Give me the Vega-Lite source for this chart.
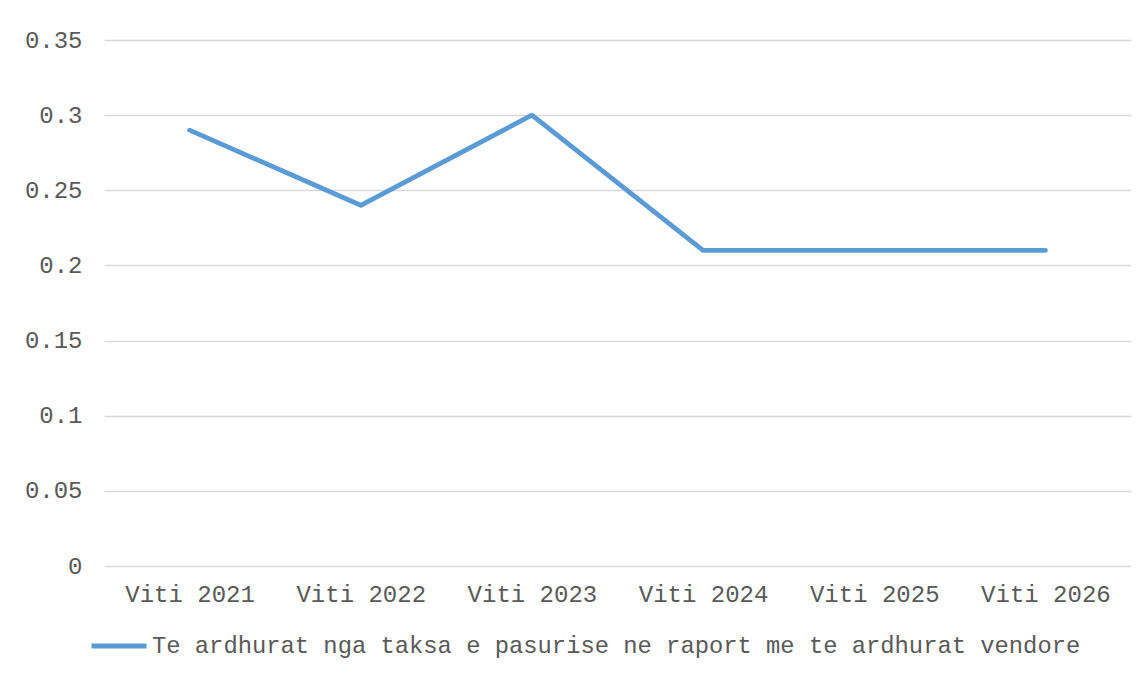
{
  "$schema": "https://vega.github.io/schema/vega-lite/v6.json",
  "autosize": {"type": "none"},
  "padding": {"left": 104, "top": 40, "right": 14, "bottom": 111},
  "width": 1027,
  "height": 526,
  "background": "#ffffff",
  "config": {
    "view": {"stroke": null},
    "font": "Liberation Mono"
  },
  "data": {
    "values": [
      {"year": "Viti 2021", "value": 0.29, "series": "Te ardhurat nga taksa e pasurise ne raport me te ardhurat vendore"},
      {"year": "Viti 2022", "value": 0.24, "series": "Te ardhurat nga taksa e pasurise ne raport me te ardhurat vendore"},
      {"year": "Viti 2023", "value": 0.30, "series": "Te ardhurat nga taksa e pasurise ne raport me te ardhurat vendore"},
      {"year": "Viti 2024", "value": 0.21, "series": "Te ardhurat nga taksa e pasurise ne raport me te ardhurat vendore"},
      {"year": "Viti 2025", "value": 0.21, "series": "Te ardhurat nga taksa e pasurise ne raport me te ardhurat vendore"},
      {"year": "Viti 2026", "value": 0.21, "series": "Te ardhurat nga taksa e pasurise ne raport me te ardhurat vendore"}
    ]
  },
  "mark": {"type": "line", "strokeWidth": 4.8, "strokeCap": "round", "strokeJoin": "round"},
  "encoding": {
    "x": {
      "field": "year",
      "type": "ordinal",
      "scale": {"type": "point", "padding": 0.5},
      "axis": {
        "title": null,
        "labelAngle": 0,
        "domain": false,
        "ticks": false,
        "grid": false,
        "labelFont": "Liberation Mono",
        "labelFontSize": 24,
        "labelColor": "#595959",
        "labelPadding": 16
      }
    },
    "y": {
      "field": "value",
      "type": "quantitative",
      "scale": {"domain": [0, 0.35], "nice": false},
      "axis": {
        "title": null,
        "values": [0, 0.05, 0.1, 0.15, 0.2, 0.25, 0.3, 0.35],
        "format": "~g",
        "domain": false,
        "ticks": false,
        "grid": true,
        "gridColor": "#d9d9d9",
        "gridWidth": 1.3,
        "labelFont": "Liberation Mono",
        "labelFontSize": 24,
        "labelColor": "#595959",
        "labelPadding": 22
      }
    },
    "color": {
      "field": "series",
      "type": "nominal",
      "scale": {"range": ["#5b9bd5"]},
      "legend": {
        "title": null,
        "orient": "none",
        "legendX": -15,
        "legendY": 576,
        "symbolType": "stroke",
        "symbolSize": 3025,
        "symbolStrokeWidth": 5,
        "labelFont": "Liberation Mono",
        "labelFontSize": 23.8,
        "labelColor": "#595959",
        "labelOffset": 3,
        "labelLimit": 1100
      }
    }
  }
}
